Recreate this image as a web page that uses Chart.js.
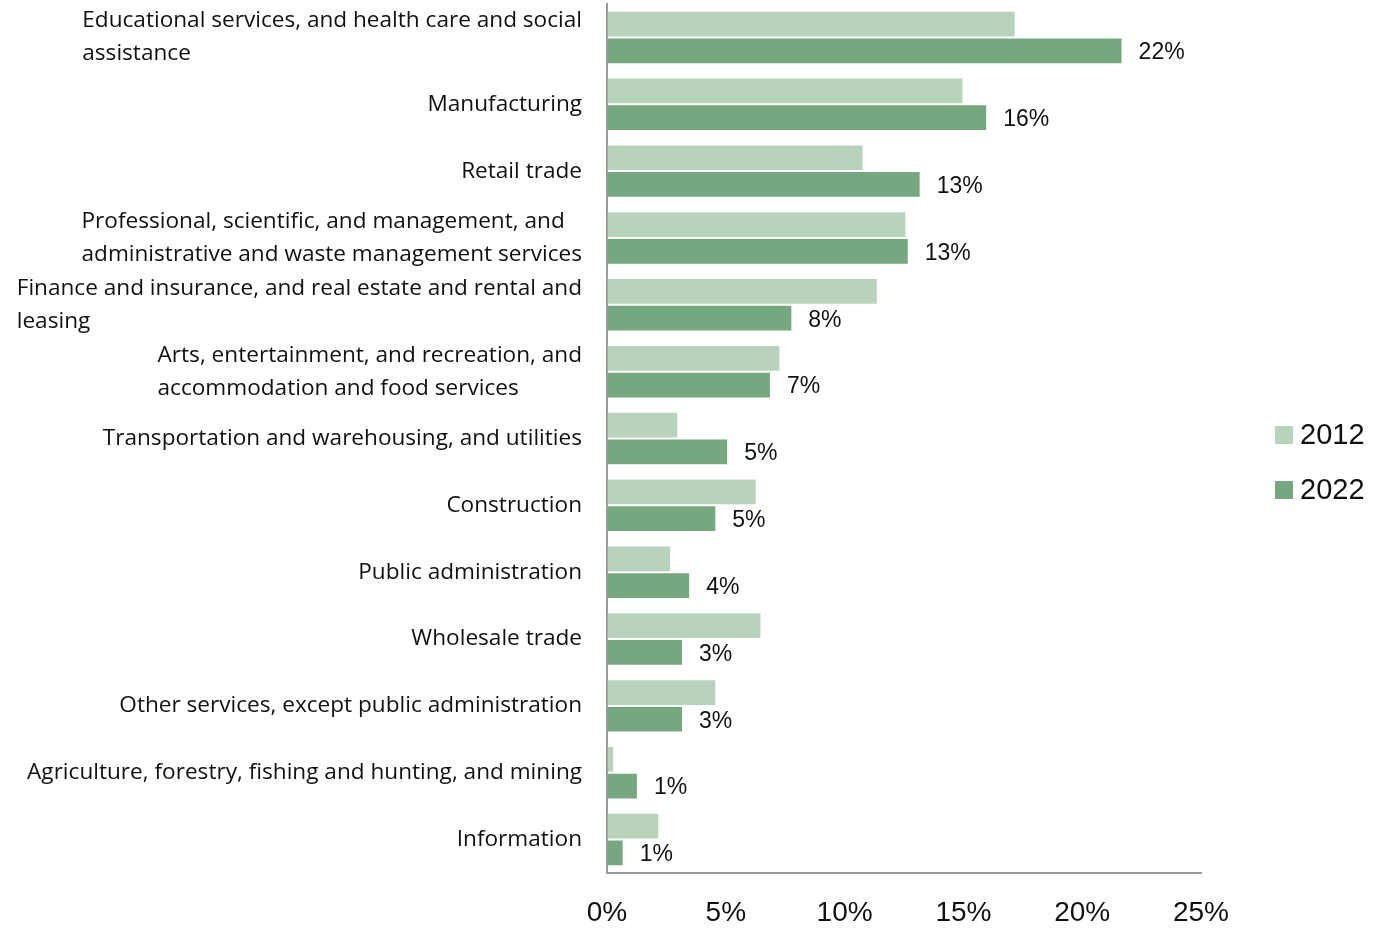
<!DOCTYPE html>
<html>
<head>
<meta charset="utf-8">
<title>Employment by industry, 2012 and 2022</title>
<script src="https://cdn.jsdelivr.net/npm/chart.js@4.4.1/dist/chart.umd.min.js"></script>
<style>
  html, body { margin: 0; padding: 0; background: #ffffff; }
  #wrap { width: 1388px; height: 928px; }
</style>
</head>
<body>
<div id="wrap"><canvas id="chart" width="1388" height="928"></canvas></div>
<script>
// Industry categories (each entry is the list of label lines)
const categories = [
  ["Educational services, and health care and social", "assistance"],
  ["Manufacturing"],
  ["Retail trade"],
  ["Professional, scientific, and management, and", "administrative and waste management services"],
  ["Finance and insurance, and real estate and rental and", "leasing"],
  ["Arts, entertainment, and recreation, and", "accommodation and food services"],
  ["Transportation and warehousing, and utilities"],
  ["Construction"],
  ["Public administration"],
  ["Wholesale trade"],
  ["Other services, except public administration"],
  ["Agriculture, forestry, fishing and hunting, and mining"],
  ["Information"]
];

// Share of employment, percent
const series2012 = [17.2, 15.0, 10.8, 12.6, 11.4, 7.3, 3.0, 6.3, 2.7, 6.5, 4.6, 0.3, 2.2];
const series2022 = [21.7, 16.0, 13.2, 12.7, 7.8, 6.9, 5.1, 4.6, 3.5, 3.2, 3.2, 1.3, 0.7];

const seriesNames = ["2012", "2022"];
const xTicks = [0, 5, 10, 15, 20, 25];

const COLOR_2012 = "#b8d3bc";
const COLOR_2022 = "#75a87e";
const LABEL_FONT = '22.6px "Open Sans"';
const NUM_FONT = '"Liberation Sans", Arial, sans-serif';

// Category labels: block right-aligned next to the axis, lines left-aligned
const categoryLabels = {
  id: "categoryLabels",
  afterDraw(chart) {
    const ctx = chart.ctx;
    const y = chart.scales.y;
    const right = chart.chartArea.left - 25;
    const lineH = 33;
    ctx.save();
    ctx.font = LABEL_FONT;
    ctx.fillStyle = "#111111";
    ctx.textBaseline = "middle";
    ctx.textAlign = "left";
    categories.forEach((lines, i) => {
      const cy = y.getPixelForValue(i);
      const w = Math.max(...lines.map(l => ctx.measureText(l).width));
      const x = right - w;
      const y0 = cy - (lines.length - 1) * lineH / 2;
      lines.forEach((l, k) => ctx.fillText(l, x, y0 + k * lineH));
    });
    ctx.restore();
  }
};

// Value labels at the end of the 2022 bars
const valueLabels = {
  id: "valueLabels",
  afterDatasetsDraw(chart) {
    const ctx = chart.ctx;
    const meta = chart.getDatasetMeta(1);
    ctx.save();
    ctx.font = "23px " + NUM_FONT;
    ctx.fillStyle = "#111111";
    ctx.textBaseline = "middle";
    ctx.textAlign = "left";
    meta.data.forEach((bar, i) => {
      ctx.fillText(Math.round(series2022[i]) + "%", bar.x + 16, bar.y + 2);
    });
    ctx.restore();
  }
};

// Legend on the right
const sideLegend = {
  id: "sideLegend",
  afterDraw(chart) {
    const ctx = chart.ctx;
    const items = chart.data.datasets;
    const x = 1275, cy0 = 435, gap = 55, box = 18;
    ctx.save();
    ctx.font = "29px " + NUM_FONT;
    ctx.textBaseline = "middle";
    ctx.textAlign = "left";
    items.forEach((ds, i) => {
      const cy = cy0 + i * gap;
      ctx.fillStyle = ds.backgroundColor;
      ctx.fillRect(x, cy - box / 2, box, box);
      ctx.fillStyle = "#111111";
      ctx.fillText(ds.label, x + 25, cy + 1);
    });
    ctx.restore();
  }
};

new Chart(document.getElementById("chart"), {
  type: "bar",
  data: {
    labels: categories.map(c => c.join(" ")),
    datasets: [
      { label: seriesNames[0], data: series2012, backgroundColor: COLOR_2012,
        borderColor: "rgba(255,255,255,0.7)", borderWidth: 1, borderSkipped: "left" },
      { label: seriesNames[1], data: series2022, backgroundColor: COLOR_2022,
        borderColor: "rgba(255,255,255,0.7)", borderWidth: 1, borderSkipped: "left" }
    ]
  },
  options: {
    indexAxis: "y",
    responsive: false,
    animation: false,
    devicePixelRatio: 1,
    categoryPercentage: 0.8,
    barPercentage: 1.0,
    layout: { padding: { top: 4, right: 187, bottom: 0, left: 0 } },
    plugins: {
      legend: { display: false },
      tooltip: { enabled: false }
    },
    scales: {
      x: {
        min: xTicks[0],
        max: xTicks[xTicks.length - 1],
        afterBuildTicks(scale) { scale.ticks = xTicks.map(v => ({ value: v })); },
        afterFit(scale) { scale.height = 55; },
        grid: { color: "rgba(0,0,0,0)", drawTicks: false },
        border: { display: true, color: "#9a9a9a", width: 2 },
        ticks: {
          padding: 23,
          color: "#111111",
          font: { family: NUM_FONT, size: 28 },
          maxRotation: 0,
          callback: v => v + "%"
        }
      },
      y: {
        grid: { color: "rgba(0,0,0,0)", drawTicks: false },
        border: { display: true, color: "#9a9a9a", width: 2 },
        ticks: { display: false },
        afterFit(scale) { scale.width = 607; }
      }
    }
  },
  plugins: [categoryLabels, valueLabels, sideLegend]
});
</script>
</body>
</html>
